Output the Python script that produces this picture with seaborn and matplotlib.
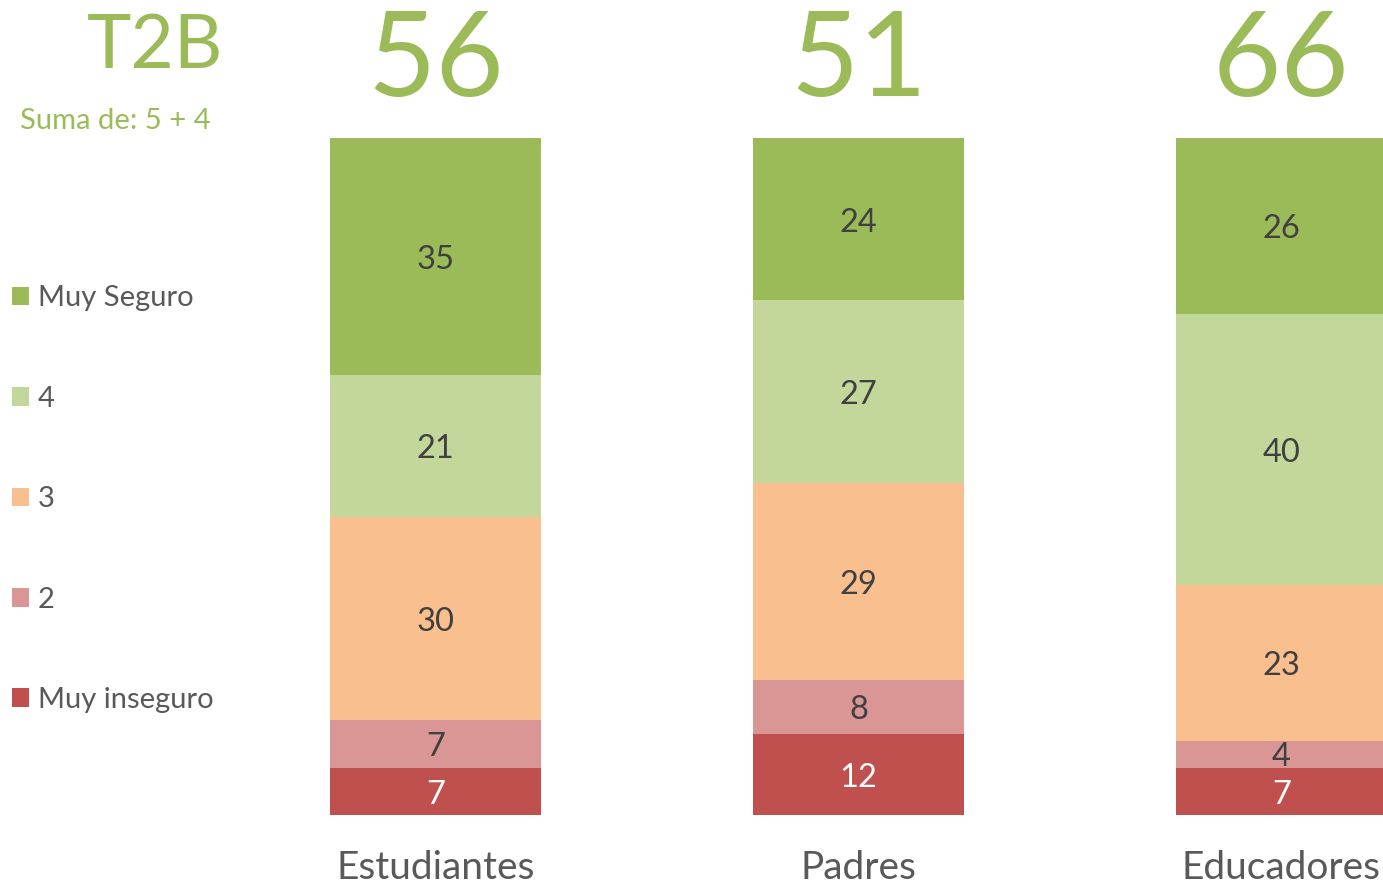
import pandas as pd
import matplotlib.pyplot as plt
import seaborn as sns

groups = ["Estudiantes", "Padres", "Educadores"]
levels = ["Muy inseguro", "2", "3", "4", "Muy Seguro"]
muy_inseguro = [7, 12, 7]
dos = [7, 8, 4]
tres = [30, 29, 23]
cuatro = [21, 27, 40]
muy_seguro = [35, 24, 26]
t2b = [56, 51, 66]

colors = {
    "Muy inseguro": "#C0504D",
    "2": "#DA9694",
    "3": "#FABF8F",
    "4": "#C4D79B",
    "Muy Seguro": "#9BBB59",
}
green = "#9BBB59"

sns.set_style("white")
plt.rcParams["font.family"] = ["Lato", "DejaVu Sans"]

df = pd.DataFrame({
    "Grupo": groups,
    "Muy inseguro": muy_inseguro,
    "2": dos,
    "3": tres,
    "4": cuatro,
    "Muy Seguro": muy_seguro,
})

fig = plt.figure(figsize=(13.83, 8.86), dpi=100)
ax = fig.add_axes([0, 71 / 886, 1, 677 / 886])

bottom = pd.Series([0] * len(groups), dtype=float)
for lvl in levels:
    sns.barplot(data=df, x="Grupo", y=lvl, order=groups, color=colors[lvl],
                width=0.5, bottom=bottom.values, errorbar=None, ax=ax,
                saturation=1, linewidth=0, label=lvl)
    for i, v in enumerate(df[lvl]):
        ax.text(i, bottom[i] + v / 2 - 0.5, str(v), ha="center", va="center",
                fontsize=23.5, color="white" if lvl == "Muy inseguro" else "#404040")
    bottom = bottom + df[lvl]

for i, v in enumerate(t2b):
    ax.text(i, 103.3, str(v), ha="center", va="bottom", fontsize=85, color=green,
            clip_on=False)

ax.set_xlim(-1.0296, 2.24)
ax.set_ylim(0, 100)
ax.set_xlabel("")
ax.set_ylabel("")
ax.set_yticks([])
ax.tick_params(axis="x", length=0, labelsize=28, labelcolor="#595959", pad=25)
sns.despine(ax=ax, left=True, bottom=True)

h, l = ax.get_legend_handles_labels()
fig.legend(h[::-1], l[::-1], loc="upper left", bbox_to_anchor=(-0.0105, 0.7075),
           frameon=False, fontsize=21, handlelength=0.6, handleheight=0.6,
           handletextpad=0.3, labelspacing=2.55, labelcolor="#595959")
if ax.get_legend():
    ax.get_legend().remove()

fig.text(155 / 1383, 1 - 47 / 886, "T2B", ha="center", va="center", fontsize=54, color=green)
fig.text(20 / 1383, 1 - 121 / 886, "Suma de: 5 + 4", ha="left", va="center", fontsize=21,
         color=green)

fig.savefig("out.png", dpi=100)
